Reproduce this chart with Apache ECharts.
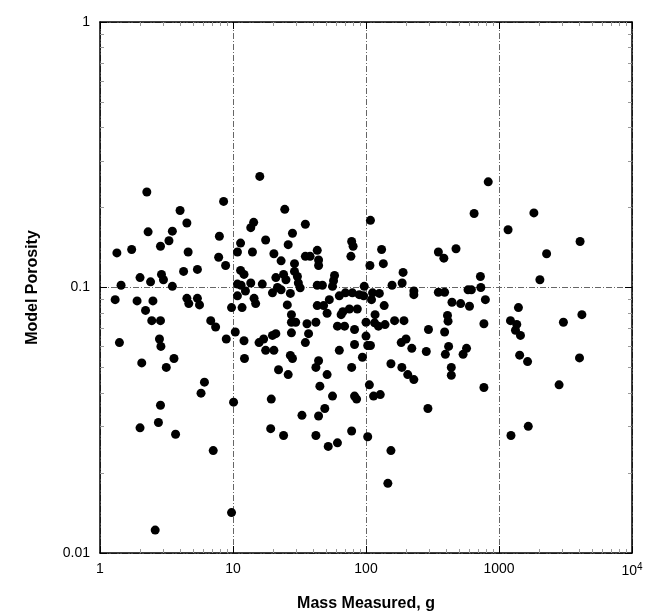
<!DOCTYPE html>
<html>
<head>
<meta charset="utf-8">
<script src="https://cdn.jsdelivr.net/npm/echarts@6/dist/echarts.min.js"></script>
<style>
  html, body { margin: 0; padding: 0; background: #fff; }
  #main { width: 650px; height: 615px; }
</style>
</head>
<body>
<div id="main"></div>
<script>
// mass measured (g) and model porosity
var massMeasured = [
  2.25, 8.5, 4.0, 4.5, 2.3, 3.5, 7.9, 3.3, 2.85, 1.34, 1.73, 4.6, 7.8, 8.8, 4.25, 5.4, 2.0, 2.9, 3.0, 2.4, 3.5, 1.44,
  15.9, 24.5, 35, 13.6, 14.3, 28, 26, 17.6, 11.4, 10.8, 14, 20.3, 78, 80, 77, 35, 38, 43, 44, 44, 23, 29, 11.4, 12.1,
  13.6, 10.8, 11.5, 16.6, 21, 24, 25, 29, 30.5, 31, 32, 21.6, 23, 43, 47, 58, 57, 56, 97,
  830, 650, 108, 131, 135, 107, 350, 385, 475, 190, 187, 157, 725, 730, 112, 126, 229, 229, 350, 390, 585, 620,
  1830, 1170, 4070, 2280, 2030,
  1.3, 1.9, 2.5, 4.5, 4.65, 5.4, 5.6, 2.2, 2.45, 2.85, 6.8, 7.4, 9.75, 10.8, 10.4, 8.9, 1.4, 2.8, 2.87, 2.06, 3.6,
  3.15, 6.1, 5.75, 2.85, 10.1,
  12.4, 14.4, 14.8, 19.8, 27, 11.7, 25.6, 43, 48, 53, 51, 63, 70, 79, 89, 67, 75, 86, 65, 27.5, 27.5, 29.6, 36, 42,
  37, 35, 61, 69, 82, 100, 27.5, 12.1, 15.7, 17, 19.8, 21, 17.6, 20.3, 82, 103, 63, 27, 28, 12.2, 94, 44, 42, 22, 26,
  51, 78, 45, 106, 56, 82, 85, 19.4, 49, 33, 44,
  96, 110, 137, 117, 100, 116, 124, 139, 164, 193, 443, 515, 600, 790, 410, 414, 770, 295, 390, 108, 184, 200, 221,
  284, 418, 395, 570, 537, 154, 186, 206, 229, 438, 438, 770, 114, 128, 292,
  1400, 1220, 1360, 1330, 1450, 3050, 4200, 1430, 1640, 4030, 2830,
  2.0, 2.75, 3.7, 7.1, 9.75, 2.6, 19.2, 24, 42, 52, 61, 78, 103, 154, 146, 1230, 1660
];
var modelPorosity = [
  0.229, 0.211, 0.195, 0.175, 0.162, 0.163, 0.156, 0.150, 0.143, 0.135, 0.139, 0.136, 0.130, 0.121, 0.115, 0.117,
  0.109, 0.112, 0.107, 0.105, 0.101, 0.102,
  0.262, 0.197, 0.173, 0.168, 0.176, 0.160, 0.145, 0.151, 0.147, 0.136, 0.136, 0.134, 0.149, 0.143, 0.131, 0.131,
  0.131, 0.138, 0.127, 0.121, 0.126, 0.123, 0.116, 0.112, 0.104, 0.103, 0.102, 0.103, 0.109, 0.112, 0.107, 0.115,
  0.110, 0.104, 0.0997, 0.100, 0.098, 0.102, 0.102, 0.111, 0.106, 0.101, 0.101,
  0.250, 0.190, 0.179, 0.139, 0.123, 0.121, 0.136, 0.129, 0.140, 0.114, 0.104, 0.102, 0.110, 0.100, 0.0955, 0.095,
  0.097, 0.094, 0.096, 0.096, 0.098, 0.098, 0.191, 0.165, 0.149, 0.134, 0.107,
  0.090, 0.089, 0.089, 0.091, 0.087, 0.091, 0.086, 0.082, 0.075, 0.075, 0.075, 0.071, 0.084, 0.093, 0.068, 0.064,
  0.062, 0.064, 0.060, 0.052, 0.054, 0.050, 0.044, 0.040, 0.036, 0.037,
  0.097, 0.091, 0.087, 0.0955, 0.095, 0.084, 0.086, 0.0855, 0.0855, 0.090, 0.080, 0.093, 0.0955, 0.0955, 0.094,
  0.081, 0.083, 0.083, 0.079, 0.079, 0.074, 0.074, 0.073, 0.074, 0.067, 0.062, 0.0715, 0.0715, 0.0695, 0.0656,
  0.0675, 0.063, 0.062, 0.064, 0.066, 0.067, 0.058, 0.058, 0.061, 0.0605, 0.058, 0.0555, 0.054, 0.054, 0.0546,
  0.053, 0.050, 0.049, 0.047, 0.047, 0.050, 0.0425, 0.043, 0.039, 0.039, 0.038, 0.038, 0.035, 0.033, 0.0328,
  0.093, 0.090, 0.0855, 0.079, 0.074, 0.0736, 0.0715, 0.0725, 0.075, 0.075, 0.088, 0.087, 0.085, 0.090, 0.0785,
  0.0747, 0.073, 0.0695, 0.068, 0.0605, 0.062, 0.064, 0.059, 0.0574, 0.060, 0.056, 0.059, 0.056, 0.0516, 0.050,
  0.047, 0.045, 0.050, 0.0467, 0.042, 0.039, 0.0395, 0.035,
  0.084, 0.075, 0.0726, 0.069, 0.066, 0.074, 0.079, 0.0556, 0.0526, 0.0543, 0.043,
  0.0296, 0.031, 0.028, 0.0243, 0.0142, 0.0122, 0.0294, 0.0277, 0.0277, 0.0252, 0.026, 0.0288, 0.0274, 0.0243,
  0.0183, 0.0277, 0.030
];

// axis decades / tick labels
var xDecades = [1, 10, 100, 1000];
var yDecades = [0.01, 0.1];
var xTickLabels = { 1: "1", 10: "10", 100: "100", 1000: "1000", 10000: "10{sup|4}" };
var yTickLabels = { 0.01: "0.01", 0.1: "0.1", 1: "1" };

function minorTicks(decades) {
  var out = [];
  decades.forEach(function(d) {
    for (var k = 2; k <= 9; k++) out.push(+(k * d).toPrecision(3));
  });
  return out;
}
var xMinor = minorTicks(xDecades);
var yMinor = minorTicks(yDecades);

var font = "Liberation Sans, Arial, Helvetica, sans-serif";
var gridRect = { left: 100, right: 18, top: 22, bottom: 62, outerBoundsMode: "none", containLabel: false };

var frameLine = { show: true, lineStyle: { color: "#000", width: 1.5 } };
var majorTick = { show: true, inside: true, length: 7, lineStyle: { color: "#000", width: 1 } };
var minorTick = { show: true, inside: true, length: 4, customValues: null, lineStyle: { color: "#999", width: 1 } };
var gridLine = { show: true, lineStyle: { color: "#666", width: 1, type: [6, 2, 1, 2] } };

function minorAxis(pos, values, isX) {
  return {
    type: "log", logBase: 10, gridIndex: 1, position: pos,
    min: isX ? 1 : 0.01, max: isX ? 10000 : 1,
    axisLine: { show: false },
    axisTick: Object.assign({}, minorTick, { customValues: values }),
    axisLabel: { show: false },
    splitLine: { show: false }
  };
}

var chart = echarts.init(document.getElementById("main"));
chart.setOption({
  animation: false,
  backgroundColor: "#fff",
  grid: [
    Object.assign({}, gridRect),
    Object.assign({}, gridRect)
  ],
  xAxis: [
    {
      type: "log", logBase: 10, gridIndex: 0, position: "bottom",
      min: 1, max: 10000,
      name: "Mass Measured, g",
      nameLocation: "middle",
      nameGap: 43,
      nameTextStyle: { fontFamily: font, fontSize: 16, fontWeight: "bold", color: "#000" },
      axisLine: frameLine,
      axisTick: majorTick,
      axisLabel: {
        fontFamily: font, fontSize: 14, color: "#000", margin: 9,
        formatter: function(v) { return xTickLabels[Math.round(v)] || ""; },
        rich: { sup: { fontFamily: font, fontSize: 10, color: "#000", verticalAlign: "top", padding: [0, 0, 8, 0] } }
      },
      splitLine: gridLine
    },
    {
      type: "log", logBase: 10, gridIndex: 0, position: "top",
      min: 1, max: 10000,
      axisLine: frameLine, axisTick: majorTick,
      axisLabel: { show: false }, splitLine: { show: false }
    },
    minorAxis("bottom", xMinor, true),
    minorAxis("top", xMinor, true)
  ],
  yAxis: [
    {
      type: "log", logBase: 10, gridIndex: 0, position: "left",
      min: 0.01, max: 1,
      name: "Model Porosity",
      nameLocation: "middle",
      nameGap: 59,
      nameTextStyle: { fontFamily: font, fontSize: 16, fontWeight: "bold", color: "#000" },
      axisLine: frameLine,
      axisTick: majorTick,
      axisLabel: {
        fontFamily: font, fontSize: 14, color: "#000", margin: 10,
        formatter: function(v) { return yTickLabels[+v.toPrecision(2)] || ""; }
      },
      splitLine: gridLine
    },
    {
      type: "log", logBase: 10, gridIndex: 0, position: "right",
      min: 0.01, max: 1,
      axisLine: frameLine, axisTick: majorTick,
      axisLabel: { show: false }, splitLine: { show: false }
    },
    minorAxis("left", yMinor, false),
    minorAxis("right", yMinor, false)
  ],
  series: [
    {
      name: "Model Porosity",
      type: "scatter",
      xAxisIndex: 0,
      yAxisIndex: 0,
      symbol: "circle",
      symbolSize: 9,
      itemStyle: { color: "#000", opacity: 1 },
      data: massMeasured.map(function(m, i) { return [m, modelPorosity[i]]; })
    }
  ]
});
</script>
</body>
</html>
